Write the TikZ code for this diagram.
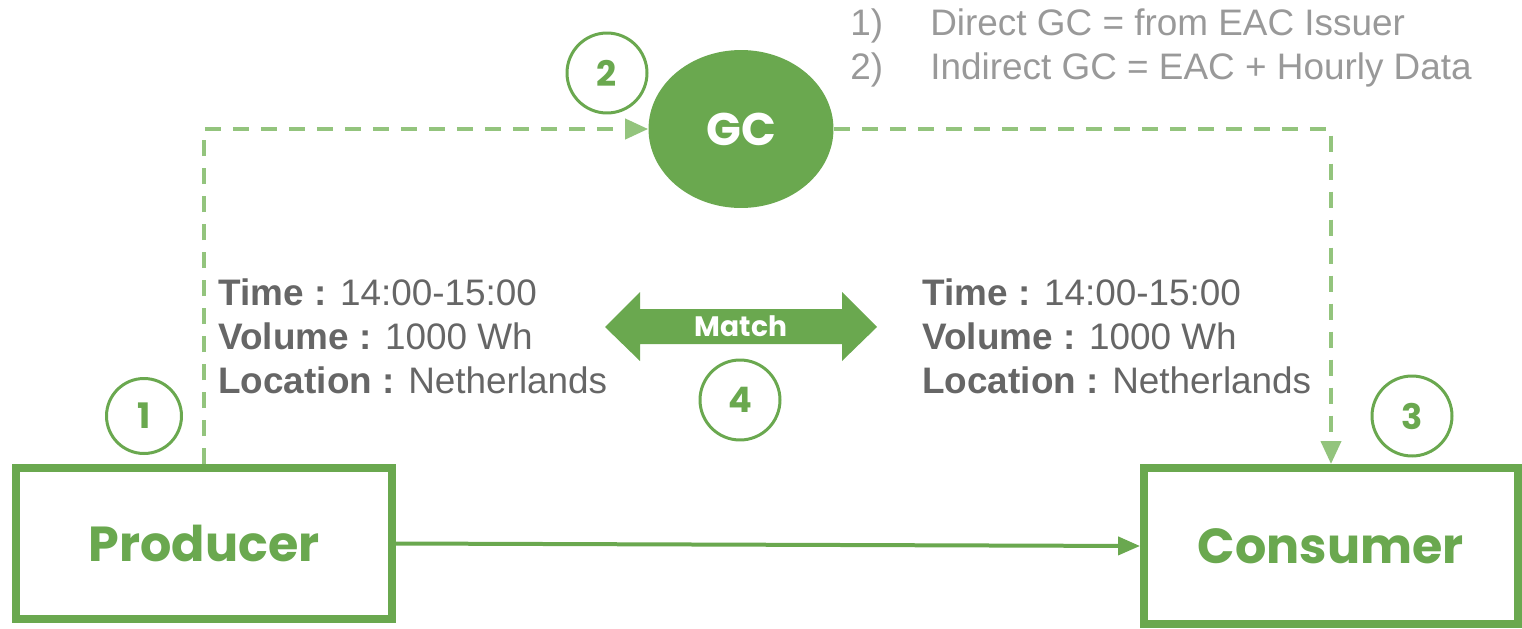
\documentclass[tikz,border=0pt]{standalone}
\usepackage{fontspec}
\setmainfont{Liberation Sans}
\newfontfamily\headfont{Poppins}
\usetikzlibrary{shapes.geometric}
\usetikzlibrary{arrows.meta}
\definecolor{gcgreen}{HTML}{6AA84F}
\definecolor{dashgreen}{HTML}{93C47D}
\definecolor{infogray}{HTML}{666666}
\definecolor{notegray}{HTML}{999999}

\begin{document}
\begin{tikzpicture}[x=0.02cm,y=-0.02cm,
  party/.style={draw=gcgreen,line width=0.16cm,text=gcgreen,font=\headfont\bfseries\fontsize{28}{30}\selectfont},
  numcircle/.style={circle,draw=gcgreen,line width=0.06cm,minimum size=1.6cm,inner sep=0,text=gcgreen,font=\headfont\bfseries\fontsize{20}{22}\selectfont},
  infotext/.style={anchor=base west,inner sep=0,text=infogray,font=\fontsize{21}{25}\selectfont},
  notetext/.style={anchor=base west,inner sep=0,text=notegray,font=\fontsize{21}{25}\selectfont},
  dashline/.style={dashgreen,line width=0.08cm,dash pattern=on 0.32cm off 0.24cm,-{Triangle[length=0.46cm,width=0.4cm]}}]
\useasboundingbox (0,0) rectangle (1522,629);

% producer and consumer
\node[party,minimum width=7.52cm,minimum height=3.02cm] (prod) at (204,543.5) {Producer};
\node[party,minimum width=7.48cm,minimum height=3.12cm] (cons) at (1331,546) {Consumer};

% certificate
\node[ellipse,fill=gcgreen,minimum width=3.7cm,minimum height=3.16cm,text=white,font=\headfont\bfseries\fontsize{26}{28}\selectfont] (gc) at (741,129) {GC};

% step numbers
\node[numcircle,minimum size=1.5cm] (n1) at (144,416) {1};
\node[numcircle] (n2) at (607,73) {2};
\node[numcircle] (n3) at (1412,416) {3};
\node[numcircle] (n4) at (740,400) {4};

% match arrow
\fill[gcgreen] (605,327) -- (640,292) -- (640,309) -- (842,309) -- (842,292) -- (877,327) -- (842,361) -- (842,344) -- (640,344) -- (640,361) -- cycle;
\node[text=white,font=\headfont\bfseries\fontsize{16}{18}\selectfont] (match) at (741,326) {Match};

% flows
\draw[dashline] (prod.north) |- (gc.west);
\draw[dashline] (gc.east) -| (cons.north);
\draw[gcgreen,line width=0.08cm,-{Triangle[length=0.44cm,width=0.36cm]}] (prod.east) -- (cons.west);

% data
\foreach \x/\s in {218/l,922/r}{
  \node[infotext] (time\s) at (\x,305) {\textbf{Time :} 14:00-15:00};
  \node[infotext] (vol\s) at (\x,349) {\textbf{Volume :} 1000 Wh};
  \node[infotext] (loc\s) at (\x,393) {\textbf{Location :} Netherlands};
}

% notes
\node[notetext] (num1) at (850,35) {1)};
\node[notetext] (note1) at (930,35) {Direct GC = from EAC Issuer};
\node[notetext] (num2) at (850,79) {2)};
\node[notetext] (note2) at (930,79) {Indirect GC = EAC + Hourly Data};

\end{tikzpicture}
\end{document}
